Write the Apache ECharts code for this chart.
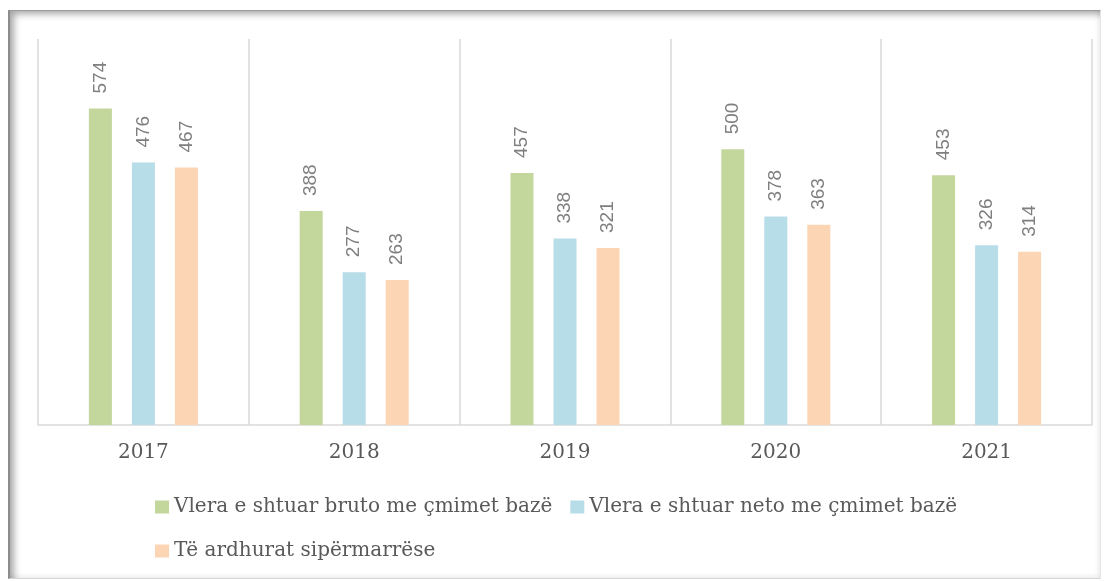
<!DOCTYPE html>
<html>
<head>
<meta charset="utf-8">
<script src="https://cdn.jsdelivr.net/npm/echarts@6/dist/echarts.min.js"></script>
<style>
  html, body { margin: 0; padding: 0; background: #fff; }
  #frame {
    position: absolute;
    left: 8px;
    top: 10px;
    width: 1093px;
    height: 569px;
    box-sizing: border-box;
    border-left: 2px solid #8c8c8c;
    border-top: 1px solid #9a9a9a;
    border-right: 1px solid #e6e6e6;
    border-bottom: 1px solid #d6d6d6;
    box-shadow: inset 7px 6px 7px -3px rgba(0, 0, 0, 0.35), inset -3px -3px 4px -1px rgba(0, 0, 0, 0.08);
  }
  #chart1 {
    position: absolute;
    left: 0;
    top: 0;
    width: 1107px;
    height: 581px;
  }
</style>
</head>
<body>
<div id="frame"></div>
<div id="chart1"></div>
<script>
// years and the three series
const years = ['2017', '2018', '2019', '2020', '2021'];
const names = [
  'Vlera e shtuar bruto me çmimet bazë',
  'Vlera e shtuar neto me çmimet bazë',
  'Të ardhurat sipërmarrëse'
];
const bruto = [574, 388, 457, 500, 453];
const neto = [476, 277, 338, 378, 326];
const sipermarrese = [467, 263, 321, 363, 314];
const colors = ['#c3d69b', '#b7dde8', '#fcd5b5'];

const chart = echarts.init(document.getElementById('chart1'));

// etiketa vertikale mbi shtylla
const barLabel = {
  show: true,
  position: 'top',
  rotate: 90,
  align: 'left',
  verticalAlign: 'middle',
  distance: 15,
  color: '#7f7f7f',
  fontFamily: 'Liberation Sans',
  fontSize: 19,
};

function makeBar(idx, data) {
  return {
    name: names[idx],
    type: 'bar',
    data: data,
    barWidth: 23,
    barGap: '87%',
    itemStyle: { color: colors[idx] },
    label: barLabel,
    emphasis: { disabled: true },
  };
}

chart.setOption({
  animation: false,
  grid: { left: 38, right: 15, top: 39, height: 386 },
  legend: {
    data: names,
    left: 155,
    top: 494,
    width: 850,
    padding: 0,
    itemGap: 18,
    itemWidth: 14,
    itemHeight: 13,
    icon: 'rect',
    textStyle: {
      color: '#595959',
      fontFamily: 'DejaVu Serif',
      fontSize: 20,
      lineHeight: 26,
    },
  },
  xAxis: {
    type: 'category',
    data: years,
    axisTick: { show: false },
    axisLine: { lineStyle: { color: '#d9d9d9', width: 1.5 } },
    splitLine: { show: true, lineStyle: { color: '#d9d9d9', width: 1.5 } },
    axisLabel: {
      margin: 18,
      color: '#595959',
      fontFamily: 'DejaVu Serif',
      fontSize: 20,
    },
  },
  yAxis: {
    type: 'value',
    min: 0,
    max: 700,
    show: false,
    splitLine: { show: false },
  },
  series: [
    makeBar(0, bruto),
    makeBar(1, neto),
    makeBar(2, sipermarrese),
  ],
});
</script>
</body>
</html>
